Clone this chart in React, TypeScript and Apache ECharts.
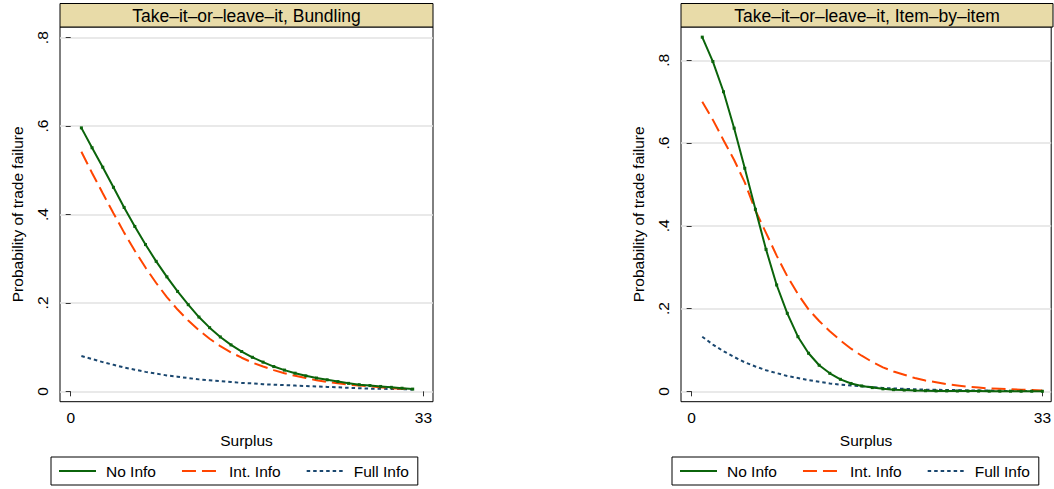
import React, { useEffect, useRef } from 'react';
import * as echarts from 'echarts';

// ---------- data ----------
const SERIES_NAMES = ['No Info', 'Int. Info', 'Full Info'];
const PANEL_TITLES = ['Take–it–or–leave–it, Bundling', 'Take–it–or–leave–it, Item–by–item'];
const X_TICKS = [0, 33];
const Y_TICKS = [0, 0.2, 0.4, 0.6, 0.8];
const Y_TICK_LABELS = ['0', '.2', '.4', '.6', '.8'];

const SURPLUS_BUNDLING = [1, 2, 3, 4, 5, 6, 7, 8, 9, 10, 11, 12, 13, 14, 15, 16, 17, 18, 19, 20, 21, 22, 23, 24, 25, 26, 27, 28, 29, 30, 31, 32];
const BUNDLING_NO_INFO = [0.596, 0.551, 0.507, 0.4615, 0.416, 0.373, 0.332, 0.294, 0.259, 0.226, 0.196, 0.168, 0.144, 0.123, 0.105, 0.090, 0.077, 0.066, 0.056, 0.048, 0.041, 0.035, 0.030, 0.026, 0.022, 0.018, 0.015, 0.013, 0.011, 0.009, 0.007, 0.005];
const BUNDLING_INT_INFO = [0.542, 0.494, 0.448, 0.403, 0.359, 0.318, 0.280, 0.245, 0.213, 0.185, 0.160, 0.138, 0.119, 0.102, 0.088, 0.076, 0.065, 0.056, 0.048, 0.041, 0.035, 0.030, 0.025, 0.021, 0.018, 0.015, 0.013, 0.011, 0.009, 0.007, 0.006, 0.005];
const BUNDLING_FULL_INFO = [0.080, 0.073, 0.066, 0.060, 0.054, 0.049, 0.044, 0.040, 0.036, 0.033, 0.030, 0.027, 0.025, 0.023, 0.021, 0.019, 0.018, 0.016, 0.015, 0.014, 0.013, 0.012, 0.011, 0.010, 0.009, 0.008, 0.007, 0.006, 0.006, 0.005, 0.005, 0.004];

const SURPLUS_ITEM = [1, 2, 3, 4, 5, 6, 7, 8, 9, 10, 11, 12, 13, 14, 15, 16, 17, 18, 19, 20, 21, 22, 23, 24, 25, 26, 27, 28, 29, 30, 31, 32, 33];
const ITEM_NO_INFO = [0.856, 0.797, 0.724, 0.636, 0.539, 0.440, 0.343, 0.257, 0.1885, 0.132, 0.092, 0.063, 0.0435, 0.029, 0.019, 0.013, 0.009, 0.006, 0.004, 0.003, 0.002, 0.0015, 0.001, 0.001, 0.0008, 0.0006, 0.0005, 0.0004, 0.0003, 0.0003, 0.0002, 0.0002, 0.0001];
const ITEM_INT_INFO = [0.700, 0.656, 0.607, 0.559, 0.505, 0.437, 0.383, 0.328, 0.278, 0.235, 0.198, 0.170, 0.145, 0.123, 0.103, 0.086, 0.071, 0.058, 0.048, 0.040, 0.032, 0.026, 0.022, 0.017, 0.014, 0.011, 0.009, 0.007, 0.006, 0.005, 0.004, 0.003, 0.002];
const ITEM_FULL_INFO = [0.132, 0.113, 0.097, 0.083, 0.070, 0.060, 0.051, 0.044, 0.037, 0.032, 0.027, 0.023, 0.019, 0.016, 0.014, 0.012, 0.010, 0.008, 0.007, 0.006, 0.005, 0.004, 0.004, 0.003, 0.003, 0.002, 0.002, 0.002, 0.001, 0.001, 0.001, 0.001, 0.001];

// ---------- style ----------
const FONT = 'Liberation Sans, Arial, Helvetica, sans-serif';
const COLORS = ['#0b640b', '#ff4500', '#1a476f'];
const DASHES: any[] = ['solid', [14, 6], [3.5, 3]];

const PANELS = [
  { left: 60, right: 621, xMin: -1, xMax: 33.9, yMin: -0.0235, yMax: 0.8242, legendLeft: 51 },
  { left: 681, right: 1, xMin: -1, xMax: 33.83, yMin: -0.0251, yMax: 0.8805, legendLeft: 672 },
];
const GRID_TOP = 27;
const GRID_BOTTOM = 87.3;
const W = 1054;

function buildOption() {
  const grids = PANELS.map((p) => ({
    left: p.left,
    right: p.right,
    top: GRID_TOP,
    bottom: GRID_BOTTOM,
    show: true,
    borderColor: '#000',
    borderWidth: 1,
    backgroundColor: '#fff',
  }));

  const xAxes = PANELS.map((p, i) => ({
    type: 'value',
    gridIndex: i,
    min: p.xMin,
    max: p.xMax,
    name: 'Surplus',
    nameLocation: 'middle',
    nameGap: 31,
    nameTextStyle: { fontFamily: FONT, fontSize: 15.5, color: '#000' },
    axisLine: { show: false },
    axisTick: { show: true, inside: false, length: 5, customValues: X_TICKS, lineStyle: { color: '#333', width: 1 } },
    axisLabel: { customValues: X_TICKS, margin: 8, fontFamily: FONT, fontSize: 15.5, color: '#000' },
    splitLine: { show: false },
  }));

  const yAxes = PANELS.map((p, i) => ({
    type: 'value',
    gridIndex: i,
    min: p.yMin,
    max: p.yMax,
    name: 'Probability of trade failure',
    nameLocation: 'middle',
    nameRotate: 90,
    nameGap: 35,
    nameTextStyle: { fontFamily: FONT, fontSize: 15.5, color: '#000' },
    axisLine: { show: false },
    axisTick: { show: true, inside: false, length: 5, customValues: Y_TICKS, lineStyle: { color: '#333', width: 1 } },
    axisLabel: {
      customValues: Y_TICKS,
      rotate: 90,
      margin: 10,
      fontFamily: FONT,
      fontSize: 15.5,
      color: '#000',
      formatter: (v: number) => {
        const idx = Y_TICKS.findIndex((t) => Math.abs(t - v) < 1e-6);
        return idx >= 0 ? Y_TICK_LABELS[idx] : '';
      },
    },
    splitLine: { show: true, lineStyle: { color: '#e2e2e2', width: 1.5 } },
  }));

  const panelData = [
    { xs: SURPLUS_BUNDLING, ys: [BUNDLING_NO_INFO, BUNDLING_INT_INFO, BUNDLING_FULL_INFO] },
    { xs: SURPLUS_ITEM, ys: [ITEM_NO_INFO, ITEM_INT_INFO, ITEM_FULL_INFO] },
  ];

  const series: any[] = [];
  panelData.forEach((pd, pi) => {
    pd.ys.forEach((ys, si) => {
      series.push({
        type: 'line',
        name: SERIES_NAMES[si],
        xAxisIndex: pi,
        yAxisIndex: pi,
        data: pd.xs.map((x, k) => [x, ys[k]]),
        symbol: si === 0 ? 'rect' : 'none',
        symbolSize: 3,
        showSymbol: si === 0,
        showAllSymbol: true,
        itemStyle: { color: COLORS[si] },
        lineStyle: { color: COLORS[si], width: 2, type: DASHES[si] },
        emphasis: { disabled: true },
        silent: true,
        z: 5 - si,
      });
    });
  });

  const legends = PANELS.map((p) => ({
    left: p.legendLeft,
    top: 457,
    orient: 'horizontal',
    data: SERIES_NAMES,
    selectedMode: false,
    borderColor: '#000',
    borderWidth: 1,
    backgroundColor: '#fff',
    padding: [6, 9, 6, 7],
    itemWidth: 37,
    itemHeight: 14,
    itemGap: 25,
    itemStyle: { opacity: 0 },
    textStyle: { fontFamily: FONT, fontSize: 15.5, color: '#000', padding: [0, 0, 0, 5] },
  }));

  const graphics: any[] = [];
  PANELS.forEach((p, i) => {
    const x0 = p.left;
    const x1 = W - p.right;
    graphics.push({
      type: 'rect',
      shape: { x: x0, y: 3.5, width: x1 - x0, height: GRID_TOP - 3.5 },
      style: { fill: '#e8dba8', stroke: '#000', lineWidth: 1 },
      z: 10,
    });
    graphics.push({
      type: 'text',
      x: (x0 + x1) / 2,
      y: 15.5,
      style: {
        text: PANEL_TITLES[i],
        fill: '#000',
        fontFamily: FONT,
        fontSize: 17.5,
        align: 'center',
        verticalAlign: 'middle',
      },
      z: 11,
    });
  });

  return {
    animation: false,
    backgroundColor: '#fff',
    grid: grids,
    xAxis: xAxes,
    yAxis: yAxes,
    legend: legends,
    series,
    graphic: graphics,
  };
}

export default function App() {
  const ref = useRef<HTMLDivElement>(null);
  useEffect(() => {
    const chart = echarts.init(ref.current as HTMLDivElement, null, { renderer: 'svg' });
    chart.setOption(buildOption() as any);
    return () => chart.dispose();
  }, []);
  return (
    <div
      ref={ref}
      style={{ position: 'fixed', left: 0, top: 0, width: W, height: 489, background: '#fff' }}
    />
  );
}
